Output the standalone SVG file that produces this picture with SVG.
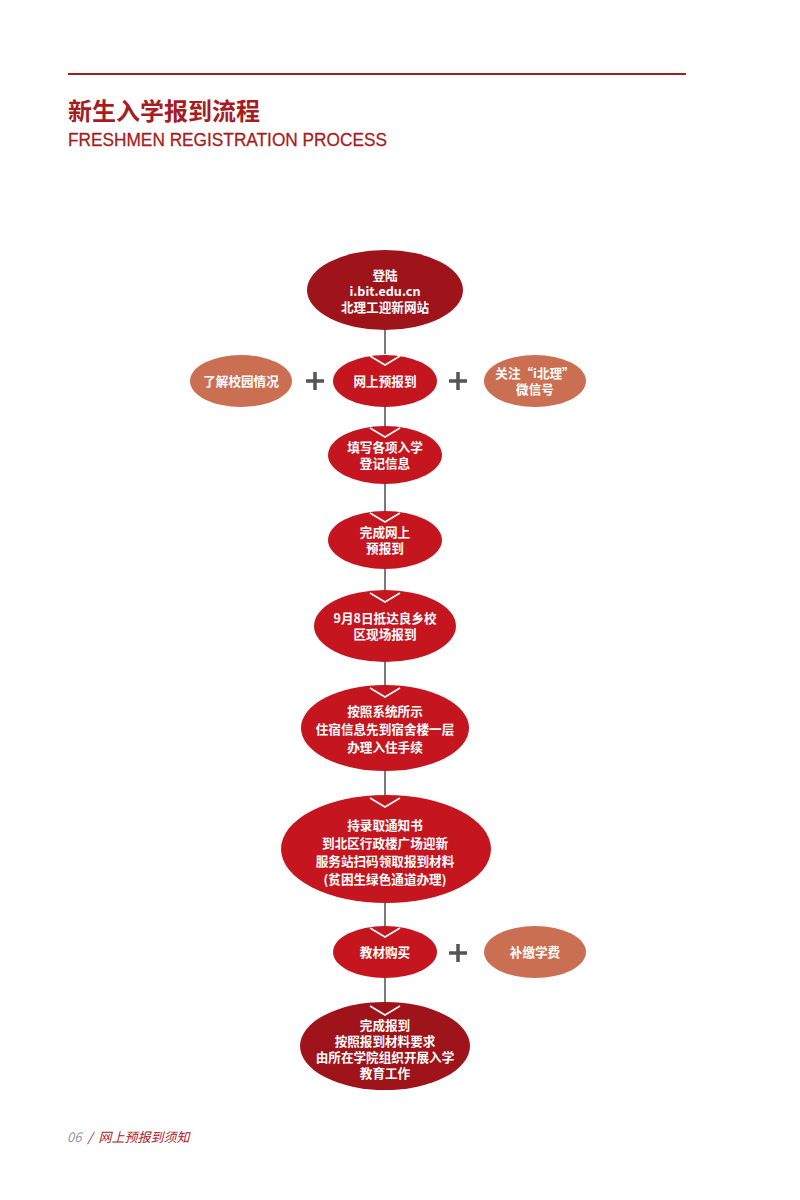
<svg xmlns="http://www.w3.org/2000/svg" width="800" height="1200" viewBox="0 0 800 1200">
<style>
.t{font-family:"Noto Sans CJK SC","Liberation Sans",sans-serif;font-weight:bold;font-size:12.6px;fill:#fff;text-anchor:middle}
.dk{fill:#9f131b}
.rd{fill:#c5161f}
.sm{fill:#cb6f53}
.ch{fill:none;stroke:#fff;stroke-width:1.6}
.ln{stroke:#7a7a7a;stroke-width:2}
.pl{stroke:#555;stroke-width:3.5}
</style>
<rect width="800" height="1200" fill="#fff"/>
<line x1="68" y1="74" x2="686" y2="74" stroke="#a71c21" stroke-width="2"/>
<text x="68" y="120" font-family="Noto Sans CJK SC,sans-serif" font-weight="bold" font-size="24" fill="#a71c21">新生入学报到流程</text>
<text x="68" y="146" font-family="Liberation Sans,sans-serif" font-size="18.5" fill="#a71c21" stroke="#a71c21" stroke-width="0.3" textLength="319" lengthAdjust="spacingAndGlyphs">FRESHMEN REGISTRATION PROCESS</text>

<g id="connectors">
<line class="ln" x1="385" y1="330" x2="385" y2="354"/>
<line class="ln" x1="385" y1="407" x2="385" y2="427"/>
<line class="ln" x1="385" y1="484" x2="385" y2="511"/>
<line class="ln" x1="385" y1="569" x2="385" y2="591"/>
<line class="ln" x1="385" y1="661" x2="385" y2="686"/>
<line class="ln" x1="385" y1="771" x2="385" y2="796"/>
<line class="ln" x1="385" y1="903" x2="385" y2="927"/>
<line class="ln" x1="385" y1="978" x2="385" y2="1004"/>
<g class="pl">
<line x1="306" y1="381" x2="324" y2="381"/><line x1="315" y1="372" x2="315" y2="390"/>
<line x1="449" y1="381" x2="467" y2="381"/><line x1="458" y1="372" x2="458" y2="390"/>
<line x1="449" y1="953" x2="467" y2="953"/><line x1="458" y1="944" x2="458" y2="962"/>
</g>
</g>

<g id="n1"><ellipse class="dk" cx="385" cy="290" rx="78" ry="40"/>
<text class="t" x="385" y="280">登陆</text><text class="t" x="385" y="296">i.bit.edu.cn</text><text class="t" x="385" y="312">北理工迎新网站</text></g>

<g id="n2"><ellipse class="rd" cx="385" cy="381" rx="52" ry="26"/>
<polyline class="ch" points="370,356 385,365 400,356"/>
<text class="t" x="385" y="386">网上预报到</text></g>

<g id="n3"><ellipse class="sm" cx="241" cy="381" rx="51" ry="26"/>
<text class="t" x="241" y="386">了解校园情况</text></g>

<g id="n4"><ellipse class="sm" cx="535" cy="381" rx="51" ry="26"/>
<text class="t" x="535" y="378">关注“i北理”</text><text class="t" x="535" y="394">微信号</text></g>

<g id="n5"><ellipse class="rd" cx="385" cy="455" rx="57" ry="29"/>
<polyline class="ch" points="370,428 385,437 400,428"/>
<text class="t" x="385" y="452">填写各项入学</text><text class="t" x="385" y="468">登记信息</text></g>

<g id="n6"><ellipse class="rd" cx="385" cy="540" rx="57" ry="29"/>
<polyline class="ch" points="370,513 385,522 400,513"/>
<text class="t" x="385" y="537">完成网上</text><text class="t" x="385" y="553">预报到</text></g>

<g id="n7"><ellipse class="rd" cx="385" cy="626" rx="71" ry="36"/>
<polyline class="ch" points="370,593 385,602 400,593"/>
<text class="t" x="385" y="623">9月8日抵达良乡校</text><text class="t" x="385" y="639">区现场报到</text></g>

<g id="n8"><ellipse class="rd" cx="385" cy="728" rx="84" ry="43"/>
<polyline class="ch" points="370,688 385,697 400,688"/>
<text class="t" x="385" y="716">按照系统所示</text><text class="t" x="385" y="734">住宿信息先到宿舍楼一层</text><text class="t" x="385" y="752">办理入住手续</text></g>

<g id="n9"><ellipse class="rd" cx="386" cy="849" rx="105" ry="54"/>
<polyline class="ch" points="370,798 385,807 400,798"/>
<text class="t" x="385" y="830">持录取通知书</text><text class="t" x="385" y="848">到北区行政楼广场迎新</text><text class="t" x="385" y="866">服务站扫码领取报到材料</text><text class="t" x="385" y="884">(贫困生绿色通道办理)</text></g>

<g id="n10"><ellipse class="rd" cx="385" cy="952" rx="52" ry="26"/>
<polyline class="ch" points="370,928 385,937 400,928"/>
<text class="t" x="385" y="957">教材购买</text></g>

<g id="n11"><ellipse class="sm" cx="535" cy="952" rx="51" ry="26"/>
<text class="t" x="535" y="957">补缴学费</text></g>

<g id="n12"><ellipse class="dk" cx="385" cy="1046" rx="85" ry="44"/>
<polyline class="ch" points="370,1006 385,1015 400,1006"/>
<text class="t" x="385" y="1030">完成报到</text><text class="t" x="385" y="1046">按照报到材料要求</text><text class="t" x="385" y="1062">由所在学院组织开展入学</text><text class="t" x="385" y="1078">教育工作</text></g>

<text x="67" y="1142" font-family="Noto Sans CJK SC,sans-serif" font-size="13" font-style="italic"><tspan fill="#999">06</tspan><tspan fill="#b0202a" dx="6">/</tspan><tspan fill="#b0202a" dx="6">网上预报到须知</tspan></text>
</svg>
